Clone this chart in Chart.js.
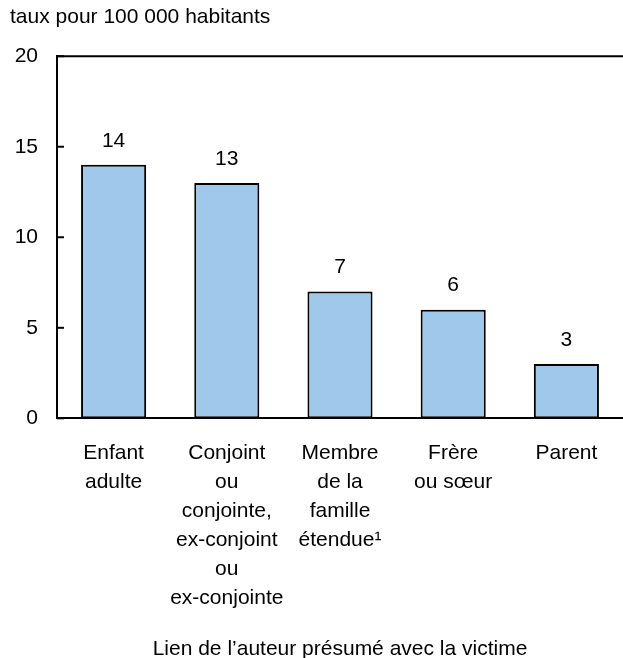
<!DOCTYPE html>
<html lang="fr">
<head>
<meta charset="utf-8">
<title>Lien de l'auteur présumé avec la victime</title>
<script src="https://cdn.jsdelivr.net/npm/chart.js@4/dist/chart.umd.min.js"></script>
<style>
  html, body { margin: 0; padding: 0; background: #fff; }
  #wrap { width: 623px; height: 658px; }
</style>
</head>
<body>
<div id="wrap"><canvas id="chart"></canvas></div>
<script>
// categories (multi-line labels) and values
const categories = [
    ['Enfant', 'adulte'],
    ['Conjoint', 'ou', 'conjointe,', 'ex-conjoint', 'ou', 'ex-conjointe'],
    ['Membre', 'de la', 'famille', 'étendue¹'],
    ['Frère', 'ou sœur'],
    ['Parent']
];
const rates = [14, 13, 7, 6, 3];
const yTicks = [0, 5, 10, 15, 20];

const yTitle = 'taux pour 100 000 habitants';
const xTitle = 'Lien de l\u2019auteur présumé avec la victime';

const FONT = '"Liberation Sans", Arial, Helvetica, sans-serif';
const SIZE = 21;

Chart.defaults.font.family = FONT;
Chart.defaults.font.size = SIZE;
Chart.defaults.color = '#000';

// value labels above bars, frame top line and inward tick marks
const decorations = {
    id: 'decorations',
    afterDatasetsDraw(chart) {
        const ctx = chart.ctx;
        const area = chart.chartArea;
        const y = chart.scales.y;

        ctx.save();
        ctx.strokeStyle = '#000';
        ctx.lineWidth = 2;

        // top frame line
        ctx.beginPath();
        ctx.moveTo(area.left, area.top);
        ctx.lineTo(area.right, area.top);
        ctx.stroke();

        // tick marks pointing into the plot
        yTicks.forEach(v => {
            const py = y.getPixelForValue(v);
            ctx.beginPath();
            ctx.moveTo(area.left, py);
            ctx.lineTo(area.left + 7, py);
            ctx.stroke();
        });

        // values
        ctx.fillStyle = '#000';
        ctx.font = SIZE + 'px ' + FONT;
        ctx.textAlign = 'center';
        ctx.textBaseline = 'middle';
        const meta = chart.getDatasetMeta(0);
        meta.data.forEach((bar, i) => {
            ctx.fillText(String(rates[i]), bar.x, bar.y - 24);
        });
        ctx.restore();
    }
};

new Chart(document.getElementById('chart'), {
    type: 'bar',
    data: {
        labels: categories,
        datasets: [{
            data: rates,
            backgroundColor: '#a0c8ea',
            borderColor: '#000',
            borderWidth: 2,
            borderSkipped: false,
            barPercentage: 0.575,
            categoryPercentage: 1
        }]
    },
    options: {
        responsive: true,
        maintainAspectRatio: false,
        animation: false,
        layout: { padding: { left: 10, right: 0, top: 0, bottom: 0 } },
        plugins: {
            legend: { display: false },
            tooltip: { enabled: false },
            title: {
                display: true,
                text: yTitle,
                align: 'start',
                color: '#000',
                font: { size: SIZE, weight: 'normal', lineHeight: 1.2 },
                padding: { top: 5, bottom: 26 }
            }
        },
        scales: {
            x: {
                offset: true,
                grid: { display: false, drawTicks: false },
                border: { display: true, color: '#000', width: 2 },
                ticks: {
                    autoSkip: false,
                    maxRotation: 0,
                    minRotation: 0,
                    padding: 20,
                    color: '#000',
                    font: { size: SIZE, lineHeight: 1.38 }
                },
                title: {
                    display: true,
                    text: xTitle,
                    color: '#000',
                    font: { size: SIZE, lineHeight: 0.8 },
                    padding: { top: 9, bottom: 0 }
                }
            },
            y: {
                min: 0,
                max: 20,
                afterBuildTicks(scale) {
                    scale.ticks = yTicks.map(v => ({ value: v }));
                },
                afterFit(scale) {
                    scale.width = 47;
                },
                grid: { display: false, drawTicks: false },
                border: { display: true, color: '#000', width: 2 },
                ticks: {
                    padding: 19,
                    color: '#000',
                    font: { size: SIZE }
                }
            }
        }
    },
    plugins: [decorations]
});
</script>
</body>
</html>
